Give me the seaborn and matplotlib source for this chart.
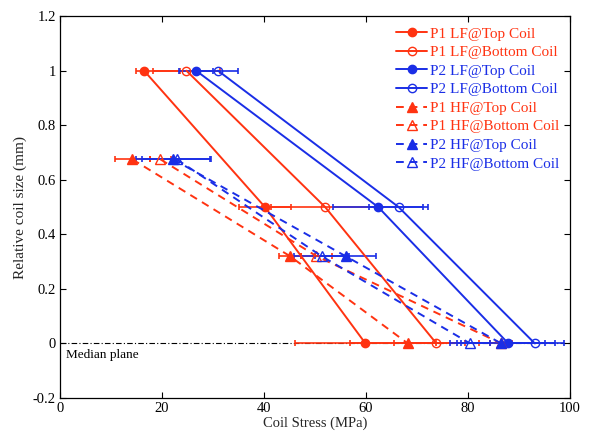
import matplotlib
matplotlib.use("Agg")
import matplotlib.pyplot as plt
import seaborn as sns
import pandas as pd

# ---- data ----
lf_y = [1.0, 0.5, 0.0]
hf_y = [0.675, 0.32, 0.0]

p1_lf_top_x = [16.5, 40.2, 59.9]
p1_lf_top_lo = [1.5, 5.0, 13.9]
p1_lf_top_hi = [7.0, 5.1, 13.9]

p1_lf_bot_x = [24.8, 52.0, 73.8]
p1_lf_bot_lo = [6.5, 10.7, 8.4]
p1_lf_bot_hi = [6.5, 10.7, 8.4]

p2_lf_top_x = [26.7, 62.4, 87.9]
p2_lf_top_lo = [3.4, 8.8, 9.2]
p2_lf_top_hi = [3.4, 8.8, 9.2]

p2_lf_bot_x = [31.0, 66.4, 93.1]
p2_lf_bot_lo = [4.0, 5.8, 5.7]
p2_lf_bot_hi = [4.0, 5.8, 5.7]

p1_hf_top_x = [14.2, 45.1, 68.2]
p1_hf_top_lo = [3.4, 2.1, 11.3]
p1_hf_top_hi = [3.4, 2.1, 11.3]

p1_hf_bot_x = [19.7, 50.3, 86.5]
p1_hf_bot_lo = [2.1, 3.0, 2.1]
p1_hf_bot_hi = [2.1, 3.0, 2.1]

p2_hf_top_x = [22.2, 56.0, 86.5]
p2_hf_top_lo = [7.2, 6.0, 8.6]
p2_hf_top_hi = [7.2, 6.0, 8.6]

p2_hf_bot_x = [22.9, 51.3, 80.4]
p2_hf_bot_lo = [6.8, 5.4, 3.9]
p2_hf_bot_hi = [6.8, 5.4, 3.9]

labels = ["P1 LF@Top Coil", "P1 LF@Bottom Coil", "P2 LF@Top Coil", "P2 LF@Bottom Coil",
          "P1 HF@Top Coil", "P1 HF@Bottom Coil", "P2 HF@Top Coil", "P2 HF@Bottom Coil"]

RED = "#FF3311"
BLUE = "#1A2EE6"

series = [
    (labels[0], p1_lf_top_x, lf_y, p1_lf_top_lo, p1_lf_top_hi, RED, "o", True, "-"),
    (labels[1], p1_lf_bot_x, lf_y, p1_lf_bot_lo, p1_lf_bot_hi, RED, "o", False, "-"),
    (labels[2], p2_lf_top_x, lf_y, p2_lf_top_lo, p2_lf_top_hi, BLUE, "o", True, "-"),
    (labels[3], p2_lf_bot_x, lf_y, p2_lf_bot_lo, p2_lf_bot_hi, BLUE, "o", False, "-"),
    (labels[4], p1_hf_top_x, hf_y, p1_hf_top_lo, p1_hf_top_hi, RED, "^", True, "--"),
    (labels[5], p1_hf_bot_x, hf_y, p1_hf_bot_lo, p1_hf_bot_hi, RED, "^", False, "--"),
    (labels[6], p2_hf_top_x, hf_y, p2_hf_top_lo, p2_hf_top_hi, BLUE, "^", True, "--"),
    (labels[7], p2_hf_bot_x, hf_y, p2_hf_bot_lo, p2_hf_bot_hi, BLUE, "^", False, "--"),
]

sns.set_theme(style="ticks")
plt.rcParams["font.family"] = ["Liberation Serif", "DejaVu Serif"]
plt.rcParams["mathtext.fontset"] = "stix"

fig = plt.figure(figsize=(5.99, 4.36), dpi=100)
ax = fig.add_axes([0.100, 0.0872, 0.8516, 0.8758])

# median plane
ax.axhline(0, color="black", lw=0.8, ls=(0, (5, 2, 1, 2)), zorder=1)
ax.text(1.2, -0.022, "Median plane", fontsize=9.5, ha="left", va="top", color="black")

for lab, xs, ys, lo, hi, col, mk, filled, ls in series:
    ax.errorbar(xs, ys, xerr=[lo, hi], fmt="none", ecolor=col, elinewidth=1.2,
                capsize=2.2, capthick=1.2, zorder=2)

for lab, xs, ys, lo, hi, col, mk, filled, ls in series:
    df = pd.DataFrame({"x": xs, "y": ys})
    lstyle = "-" if ls == "-" else (0, (4, 3))
    sns.lineplot(data=df, x="x", y="y", ax=ax, sort=False, estimator=None,
                 color=col, marker=mk, markersize=6 if mk == "o" else 6.5,
                 markerfacecolor=col if filled else "none",
                 markeredgecolor=col, markeredgewidth=1.0,
                 linewidth=1.4, linestyle=lstyle, label=lab, zorder=3)

ax.set_xlim(0, 100)
ax.set_ylim(-0.2, 1.2)
ax.set_xticks([0, 20, 40, 60, 80, 100])
ax.set_yticks([-0.2, 0, 0.2, 0.4, 0.6, 0.8, 1.0, 1.2])
ax.set_xticklabels(["0", "20", "40", "60", "80", "100"])
ax.set_yticklabels(["-0.2", "0", "0.2", "0.4", "0.6", "0.8", "1", "1.2"])
ax.tick_params(direction="in", top=True, right=True, length=4, width=0.8,
               labelsize=10.5, colors="black", pad=3)
for sp in ax.spines.values():
    sp.set_linewidth(0.9)
    sp.set_color("black")
ax.set_xlabel("Coil Stress (MPa)", fontsize=10.5, labelpad=1)
ax.set_ylabel("Relative coil size (mm)", fontsize=11, labelpad=4)

leg = ax.legend(loc="upper right", bbox_to_anchor=(1.0, 1.0), frameon=False,
                fontsize=11, labelcolor="linecolor", handlelength=2.0,
                handletextpad=0.2, labelspacing=0.32, borderaxespad=0.3)

fig.savefig("out.png", dpi=100)
